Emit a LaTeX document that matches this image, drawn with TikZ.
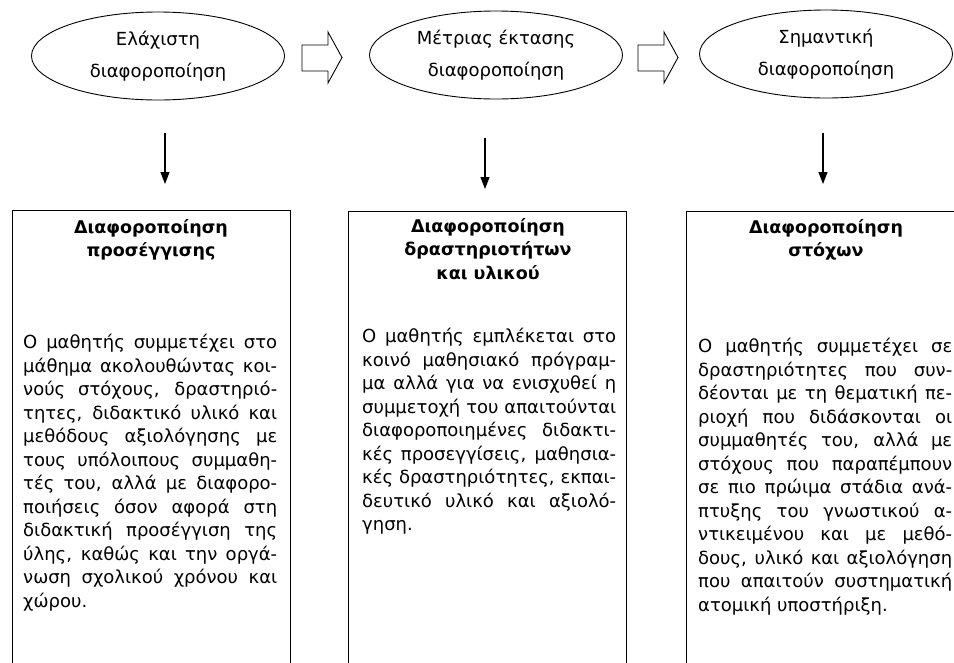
\documentclass[tikz,border=0pt]{standalone}
\usepackage{fontspec}
\setmainfont{DejaVu Sans}
\usetikzlibrary{shapes.geometric,arrows.meta}
\newlength{\bw}\setlength{\bw}{254pt}
\newcommand{\JLine}[1]{\makebox[\bw][s]{#1}}
\newcommand{\LLine}[1]{\makebox[\bw][l]{#1}}
\tikzset{
  ell/.style={draw, line width=0.9pt, ellipse, minimum width=253pt, minimum height=88pt, inner sep=0pt, align=center, font=\fontsize{18}{32}\selectfont},
  boxst/.style={draw, line width=1.3pt, rectangle, minimum width=278pt, minimum height=520pt, anchor=north west, inner sep=0pt},
  titlest/.style={anchor=north, inner sep=0pt, align=center, font=\bfseries\fontsize{17.5}{23.5}\selectfont},
  bodyst/.style={anchor=north west, inner sep=0pt, align=left, font=\fontsize{18}{23.5}\selectfont},
  downarr/.style={line width=1.1pt, -{Triangle[length=12pt,width=9pt]}},
  blockarr/.style={draw, line width=0.9pt, fill=white}
}
\begin{document}
\begin{tikzpicture}[x=1pt,y=-1pt]
\clip (0,0) rectangle (954,662);
\fill[white] (0,0) rectangle (954,662);

% ellipses
\node[ell] (e1) at (158,56) {Ελάχιστη\\διαφοροποίηση};
\node[ell] (e2) at (496,55) {Μέτριας έκτασης\\διαφοροποίηση};
\node[ell] (e3) at (826,54) {Σημαντική\\διαφοροποίηση};

% block arrows
\foreach \x in {302,638}{
  \draw[blockarr] (\x,45) -- (\x+26,45) -- (\x+26,32) -- (\x+40,57.5) -- (\x+26,83) -- (\x+26,71) -- (\x,71) -- cycle;
}

% down arrows
\coordinate (d1s) at (165,133); \coordinate (d1e) at (165,184);
\coordinate (d2s) at (485,138); \coordinate (d2e) at (485,189);
\coordinate (d3s) at (823,133); \coordinate (d3e) at (823,184);
\draw[downarr] (d1s) -- (d1e);
\draw[downarr] (d2s) -- (d2e);
\draw[downarr] (d3s) -- (d3e);

% boxes
\node[boxst] (b1) at (12,210) {};
\node[boxst] (b2) at (348,211) {};
\node[boxst] (b3) at (686,211) {};

% titles
\node[titlest] (t1) at (151,219) {Διαφοροποίηση\\προσέγγισης};
\node[titlest] (t2) at (488,218) {Διαφοροποίηση\\δραστηριοτήτων\\και υλικού};
\node[titlest] (t3) at (826,219) {Διαφοροποίηση\\στόχων};

% bodies
\node[bodyst] (x1) at (23,334) {%
\JLine{Ο μαθητής συμμετέχει στο}\\
\JLine{μάθημα ακολουθώντας κοι-}\\
\JLine{νούς στόχους, δραστηριό-}\\
\JLine{τητες, διδακτικό υλικό και}\\
\JLine{μεθόδους αξιολόγησης με}\\
\JLine{τους υπόλοιπους συμμαθη-}\\
\JLine{τές του, αλλά με διαφορο-}\\
\JLine{ποιήσεις όσον αφορά στη}\\
\JLine{διδακτική προσέγγιση της}\\
\JLine{ύλης, καθώς και την οργά-}\\
\JLine{νωση σχολικού χρόνου και}\\
\LLine{χώρου.}};

\node[bodyst] (x2) at (362,328) {%
\JLine{Ο μαθητής εμπλέκεται στο}\\
\JLine{κοινό μαθησιακό πρόγραμ-}\\
\JLine{μα αλλά για να ενισχυθεί η}\\
\JLine{συμμετοχή του απαιτούνται}\\
\JLine{διαφοροποιημένες διδακτι-}\\
\JLine{κές προσεγγίσεις, μαθησια-}\\
\JLine{κές δραστηριότητες, εκπαι-}\\
\JLine{δευτικό υλικό και αξιολό-}\\
\LLine{γηση.}};

\node[bodyst] (x3) at (698,338) {%
\JLine{Ο μαθητής συμμετέχει σε}\\
\JLine{δραστηριότητες που συν-}\\
\JLine{δέονται με τη θεματική πε-}\\
\JLine{ριοχή που διδάσκονται οι}\\
\JLine{συμμαθητές του, αλλά με}\\
\JLine{στόχους που παραπέμπουν}\\
\JLine{σε πιο πρώιμα στάδια ανά-}\\
\JLine{πτυξης του γνωστικού α-}\\
\JLine{ντικειμένου και με μεθό-}\\
\JLine{δους, υλικό και αξιολόγηση}\\
\JLine{που απαιτούν συστηματική}\\
\LLine{ατομική υποστήριξη.}};
\end{tikzpicture}
\end{document}
